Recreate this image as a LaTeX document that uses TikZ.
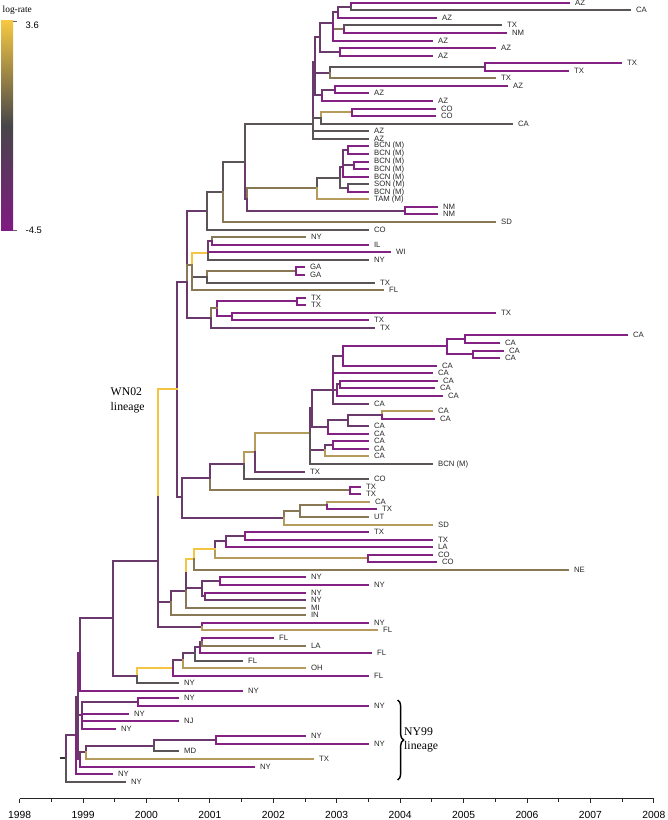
\documentclass[tikz,border=0pt]{standalone}
\usepackage{fontspec}
\setmainfont{Liberation Serif}
\setsansfont{Liberation Sans}
\usetikzlibrary{decorations.pathreplacing}
\definecolor{pu}{HTML}{832282}
\definecolor{pd}{HTML}{6B3A6C}
\definecolor{gy}{HTML}{5A5459}
\definecolor{ol}{HTML}{887856}
\definecolor{tn}{HTML}{B59C5C}
\definecolor{ye}{HTML}{F3C543}
\definecolor{barY}{HTML}{F5C842}
\definecolor{barG}{HTML}{474649}
\definecolor{barP}{HTML}{7F1A82}
\tikzset{
  branchln/.style={line width=0.06cm, line cap=rect},
  tiplbl/.style={anchor=west, font=\sffamily\fontsize{6.6}{7}\selectfont, inner xsep=5pt, inner ysep=0pt, text=black!85},
  lineagelbl/.style={anchor=west, align=left, inner sep=0pt, font=\fontsize{10}{12.3}\selectfont},
}
\newcommand\tnode[3]{\coordinate (#1) at (#2,#3);}
\newcommand\tbr[3]{\draw[branchln,#1] (#2) |- (#3);}
\newcommand\tleaf[6]{\coordinate (e#1) at (#3,#4); \draw[branchln,#6] (#2) |- (e#1); \node[tiplbl] (l#1) at (e#1) {#5};}
\begin{document}
\begin{tikzpicture}[x=0.03cm,y=-0.03cm]
\useasboundingbox (0,0) rectangle (667,820);
% ---------- internal nodes ----------
\tnode{nac}{351}{7}
\tnode{nA}{338}{12}
\tnode{ntn}{344}{29}
\tnode{nB}{333}{23}
\tnode{naz2}{340}{52}
\tnode{nC}{320}{37}
\tnode{ntx2}{485}{67}
\tnode{nD}{330}{73}
\tnode{naz3}{335}{90}
\tnode{nE}{322}{95}
\tnode{nF}{315}{62}
\tnode{nco}{352}{112}
\tnode{ncoca}{321}{118}
\tnode{nAZ}{313}{124}
\tnode{nb1}{348}{150}
\tnode{nb2}{354}{165}
\tnode{nb3}{343}{167}
\tnode{nb4}{348}{188}
\tnode{nbmx}{340}{178}
\tnode{nmex}{317}{188}
\tnode{nnm}{405}{211}
\tnode{n247}{247}{199}
\tnode{n245}{245}{162}
\tnode{n223}{223}{192}
\tnode{n207}{207}{211}
\tnode{A1}{212}{241}
\tnode{A2}{208}{253}
\tnode{nga}{296}{271}
\tnode{A4}{207}{277}
\tnode{A5}{192}{265}
\tnode{ntx3}{297}{301}
\tnode{ntx4}{232}{316}
\tnode{n216}{217}{308}
\tnode{ntxc}{211}{318}
\tnode{B}{187}{282}
\tnode{nca1}{465}{339}
\tnode{nca2}{473}{354}
\tnode{nca3}{447}{346}
\tnode{nca4}{343}{356}
\tnode{E1}{340}{384}
\tnode{E2}{337}{390}
\tnode{F}{333}{390}
\tnode{J}{382}{415}
\tnode{I}{348}{420}
\tnode{H}{328}{427}
\tnode{G}{312}{408}
\tnode{nca5}{333}{445}
\tnode{nca6}{325}{450}
\tnode{K}{310}{433}
\tnode{M}{255}{452}
\tnode{N}{244}{464}
\tnode{ntx5}{350}{490}
\tnode{O}{210}{478}
\tnode{nct}{327}{505}
\tnode{nut}{300}{511}
\tnode{P}{284}{518}
\tnode{D}{182}{497}
\tnode{C}{177}{389}
\tnode{R}{158}{495}
\tnode{T1}{245}{536}
\tnode{T2}{226}{541}
\tnode{nco2}{368}{558}
\tnode{S1}{215}{549}
\tnode{S2}{194}{559}
\tnode{nny1}{220}{581}
\tnode{nny2}{205}{596}
\tnode{U}{202}{588}
\tnode{S3a}{186}{573}
\tnode{S3b}{186}{591}
\tnode{V}{171}{602}
\tnode{W}{202}{627}
\tnode{X}{158}{561}
\tnode{AA1a}{202}{642}
\tnode{AA1}{200}{647}
\tnode{AA2}{195}{653}
\tnode{AA3}{183}{660}
\tnode{AA4}{173}{668}
\tnode{Z}{137}{676}
\tnode{Y}{113}{618}
\tnode{BB}{80}{653}
\tnode{DD}{138}{702}
\tnode{EE}{82}{715}
\tnode{FF}{216}{740}
\tnode{GG}{154}{746}
\tnode{HH}{86}{752}
\tnode{II}{80}{759}
\tnode{KK}{78}{697}
\tnode{CC}{76}{735}
\tnode{root}{66}{758}
\coordinate (stub) at (61,758);
% ---------- internal branches ----------
\tbr{pd}{nA}{nac}
\tbr{pd}{nB}{nA}
\tbr{ol}{nB}{ntn}
\tbr{pd}{nC}{nB}
\tbr{pd}{nC}{naz2}
\tbr{pd}{nF}{nC}
\tbr{gy}{nD}{ntx2}
\tbr{pd}{nF}{nD}
\tbr{pd}{nE}{naz3}
\tbr{pd}{nF}{nE}
\tbr{pd}{nAZ}{nF}
\tbr{tn}{ncoca}{nco}
\tbr{gy}{nAZ}{ncoca}
\tbr{gy}{n245}{nAZ}
\tbr{pd}{nb3}{nb1}
\tbr{pd}{nb3}{nb2}
\tbr{pd}{nbmx}{nb3}
\tbr{gy}{nbmx}{nb4}
\tbr{gy}{nmex}{nbmx}
\tbr{ol}{n247}{nmex}
\tbr{pd}{n247}{nnm}
\tbr{pd}{n245}{n247}
\tbr{gy}{n223}{n245}
\tbr{gy}{n207}{n223}
\tbr{pd}{B}{n207}
\tbr{pd}{A2}{A1}
\tbr{ye}{A5}{A2}
\tbr{ol}{A4}{nga}
\tbr{gy}{A5}{A4}
\tbr{ol}{B}{A5}
\tbr{pu}{n216}{ntx3}
\tbr{pu}{n216}{ntx4}
\tbr{ol}{ntxc}{n216}
\tbr{pd}{B}{ntxc}
\tbr{pd}{C}{B}
\tbr{pu}{nca3}{nca1}
\tbr{pu}{nca3}{nca2}
\tbr{pu}{nca4}{nca3}
\tbr{pd}{F}{nca4}
\tbr{pd}{E2}{E1}
\tbr{pd}{F}{E2}
\tbr{pd}{G}{F}
\tbr{pd}{I}{J}
\tbr{pd}{H}{I}
\tbr{pd}{G}{H}
\tbr{pd}{K}{G}
\tbr{pd}{nca6}{nca5}
\tbr{pd}{K}{nca6}
\tbr{tn}{M}{K}
\tbr{tn}{N}{M}
\tbr{pd}{O}{N}
\tbr{ol}{O}{ntx5}
\tbr{ol}{nut}{nct}
\tbr{ol}{P}{nut}
\tbr{pd}{D}{O}
\tbr{pd}{D}{P}
\tbr{pd}{C}{D}
\tbr{pd}{X}{R}
\tbr{ye}{R}{C}
\tbr{pd}{T2}{T1}
\tbr{pd}{S1}{T2}
\tbr{tn}{S1}{nco2}
\tbr{ye}{S2}{S1}
\tbr{pd}{U}{nny1}
\tbr{pd}{U}{nny2}
\tbr{pd}{S3a}{U}
\tbr{ye}{S3a}{S2}
\tbr{pd}{S3b}{S3a}
\tbr{pd}{V}{S3b}
\tbr{pd}{X}{V}
\tbr{pd}{X}{W}
\tbr{pd}{Y}{X}
\tbr{pd}{AA1}{AA1a}
\tbr{pd}{AA2}{AA1}
\tbr{pd}{AA3}{AA2}
\tbr{pd}{AA4}{AA3}
\tbr{ye}{Z}{AA4}
\tbr{pd}{Y}{Z}
\tbr{pd}{BB}{Y}
\tbr{pd}{KK}{BB}
\tbr{pd}{EE}{DD}
\tbr{pd}{KK}{EE}
\tbr{pd}{GG}{FF}
\tbr{pd}{HH}{GG}
\tbr{pd}{II}{HH}
\tbr{pd}{KK}{II}
\tbr{pd}{CC}{KK}
\tbr{pd}{root}{CC}
\draw[branchln,black!80] (stub) -- (root);
% ---------- leaves ----------
\tleaf{1}{nac}{569}{3}{AZ}{pu}
\tleaf{2}{nac}{630}{10}{CA}{gy}
\tleaf{3}{nA}{436}{18}{AZ}{pu}
\tleaf{4}{ntn}{501}{25}{TX}{gy}
\tleaf{5}{ntn}{506}{33}{NM}{pu}
\tleaf{6}{nB}{432}{41}{AZ}{pu}
\tleaf{7}{naz2}{495}{48}{AZ}{pu}
\tleaf{8}{naz2}{432}{56}{AZ}{pu}
\tleaf{9}{ntx2}{621}{63}{TX}{pu}
\tleaf{10}{ntx2}{568}{71}{TX}{pu}
\tleaf{11}{nD}{495}{78}{TX}{ol}
\tleaf{12}{naz3}{507}{86}{AZ}{pu}
\tleaf{13}{naz3}{368}{93}{AZ}{pu}
\tleaf{14}{nE}{432}{101}{AZ}{pu}
\tleaf{15}{nco}{435}{109}{CO}{pu}
\tleaf{16}{nco}{435}{116}{CO}{pu}
\tleaf{17}{ncoca}{512}{124}{CA}{gy}
\tleaf{18}{nAZ}{368}{131}{AZ}{gy}
\tleaf{19}{nAZ}{368}{139}{AZ}{gy}
\tleaf{20}{nb1}{368}{146}{BCN (M)}{pu}
\tleaf{21}{nb1}{368}{154}{BCN (M)}{pu}
\tleaf{22}{nb2}{368}{162}{BCN (M)}{pu}
\tleaf{23}{nb2}{368}{169}{BCN (M)}{pu}
\tleaf{24}{nb3}{368}{177}{BCN (M)}{pu}
\tleaf{25}{nb4}{368}{184}{SON (M)}{gy}
\tleaf{26}{nb4}{368}{192}{BCN (M)}{pu}
\tleaf{27}{nmex}{368}{199}{TAM (M)}{tn}
\tleaf{28}{nnm}{437}{207}{NM}{pu}
\tleaf{29}{nnm}{437}{214}{NM}{pu}
\tleaf{30}{n223}{495}{222}{SD}{ol}
\tleaf{31}{n207}{368}{230}{CO}{gy}
\tleaf{32}{A1}{305}{237}{NY}{ol}
\tleaf{33}{A1}{368}{245}{IL}{pu}
\tleaf{34}{A2}{390}{252}{WI}{pu}
\tleaf{35}{A2}{368}{260}{NY}{gy}
\tleaf{36}{nga}{304}{267}{GA}{pu}
\tleaf{37}{nga}{304}{275}{GA}{pu}
\tleaf{38}{A4}{374}{283}{TX}{gy}
\tleaf{39}{A5}{383}{290}{FL}{ol}
\tleaf{40}{ntx3}{305}{298}{TX}{pu}
\tleaf{41}{ntx3}{305}{305}{TX}{pu}
\tleaf{42}{ntx4}{495}{313}{TX}{pu}
\tleaf{43}{ntx4}{368}{320}{TX}{pu}
\tleaf{44}{ntxc}{374}{328}{TX}{pd}
\tleaf{45}{nca1}{627}{335}{CA}{pu}
\tleaf{46}{nca1}{499}{343}{CA}{pu}
\tleaf{47}{nca2}{503}{351}{CA}{pu}
\tleaf{48}{nca2}{499}{358}{CA}{pu}
\tleaf{49}{nca4}{436}{366}{CA}{pu}
\tleaf{50}{F}{432}{373}{CA}{pu}
\tleaf{51}{E1}{437}{381}{CA}{pu}
\tleaf{52}{E1}{434}{388}{CA}{pu}
\tleaf{53}{E2}{442}{396}{CA}{pu}
\tleaf{54}{F}{368}{404}{CA}{pd}
\tleaf{55}{J}{432}{411}{CA}{tn}
\tleaf{56}{J}{434}{419}{CA}{pu}
\tleaf{57}{I}{368}{426}{CA}{pd}
\tleaf{58}{H}{368}{434}{CA}{pu}
\tleaf{59}{nca5}{368}{441}{CA}{pu}
\tleaf{60}{nca5}{368}{449}{CA}{pu}
\tleaf{61}{nca6}{368}{456}{CA}{tn}
\tleaf{62}{K}{432}{464}{BCN (M)}{gy}
\tleaf{63}{M}{304}{472}{TX}{pd}
\tleaf{64}{N}{368}{479}{CO}{gy}
\tleaf{65}{ntx5}{360}{487}{TX}{pu}
\tleaf{66}{ntx5}{360}{494}{TX}{pu}
\tleaf{67}{nct}{369}{502}{CA}{tn}
\tleaf{68}{nct}{376}{509}{TX}{pu}
\tleaf{69}{nut}{368}{517}{UT}{ol}
\tleaf{70}{P}{432}{525}{SD}{tn}
\tleaf{71}{T1}{368}{532}{TX}{pu}
\tleaf{72}{T1}{432}{540}{TX}{pu}
\tleaf{73}{T2}{432}{547}{LA}{pu}
\tleaf{74}{nco2}{432}{555}{CO}{pu}
\tleaf{75}{nco2}{436}{562}{CO}{pu}
\tleaf{76}{S2}{568}{570}{NE}{ol}
\tleaf{77}{nny1}{305}{577}{NY}{pu}
\tleaf{78}{nny1}{368}{585}{NY}{pu}
\tleaf{79}{nny2}{305}{593}{NY}{pu}
\tleaf{80}{nny2}{305}{600}{NY}{pd}
\tleaf{81}{S3b}{305}{608}{MI}{ol}
\tleaf{82}{V}{305}{615}{IN}{ol}
\tleaf{83}{W}{368}{623}{NY}{pu}
\tleaf{84}{W}{377}{630}{FL}{tn}
\tleaf{85}{AA1a}{273}{638}{FL}{pu}
\tleaf{86}{AA1a}{305}{646}{LA}{ol}
\tleaf{87}{AA1}{371}{653}{FL}{pu}
\tleaf{88}{AA2}{242}{661}{FL}{gy}
\tleaf{89}{AA3}{305}{668}{OH}{tn}
\tleaf{90}{AA4}{368}{676}{FL}{pu}
\tleaf{91}{Z}{178}{683}{NY}{gy}
\tleaf{92}{BB}{242}{691}{NY}{pu}
\tleaf{93}{DD}{178}{698}{NY}{pu}
\tleaf{94}{DD}{368}{706}{NY}{pu}
\tleaf{95}{EE}{128}{714}{NY}{pu}
\tleaf{96}{EE}{178}{721}{NJ}{pu}
\tleaf{97}{EE}{115}{729}{NY}{pu}
\tleaf{98}{FF}{305}{736}{NY}{pu}
\tleaf{99}{FF}{368}{744}{NY}{pu}
\tleaf{100}{GG}{178}{751}{MD}{gy}
\tleaf{101}{HH}{313}{759}{TX}{tn}
\tleaf{102}{II}{254}{767}{NY}{pu}
\tleaf{103}{CC}{112}{774}{NY}{pu}
\tleaf{104}{root}{125}{782}{NY}{gy}
% ---------- lineage labels ----------
\node[lineagelbl] (wn) at (110.5,400.5) {WN02\\lineage};
\coordinate (brtop) at (397.7,700);
\coordinate (brbot) at (397.7,780);
\draw[line width=1.2pt, decorate, decoration={brace, amplitude=5pt}] (brtop) -- (brbot);
\node[lineagelbl] (ny) at (404,740) {NY99\\lineage};
% ---------- legend ----------
\shade[top color=barY, bottom color=barP, middle color=barG] (1,21) rectangle (13,230);
\draw[black!60, line width=0.6pt] (13,21) -- (16.5,21);
\draw[black!60, line width=0.6pt] (13,230) -- (16.5,230);
\node[anchor=west, inner sep=0pt, font=\fontsize{8}{9}\selectfont] (lr) at (2.5,10.5) {log-rate};
\node[anchor=west, inner sep=0pt, font=\sffamily\fontsize{8}{9}\selectfont] (hi) at (25.5,25.5) {3.6};
\node[anchor=west, inner sep=0pt, font=\sffamily\fontsize{8}{9}\selectfont] (lo) at (25.5,230.5) {-4.5};
% ---------- time axis ----------
\coordinate (ax0) at (19.6,798.5);
\coordinate (ax1) at (653.8,798.5);
\draw[black!85, line width=0.7pt] (ax0) -- (ax1);
\foreach \i in {0,...,10}{
  \pgfmathsetmacro{\xx}{19.6+63.42*\i}
  \pgfmathtruncatemacro{\yr}{1998+\i}
  \draw[black!85, line width=0.7pt] (\xx,798.5) -- (\xx,802.5);
  \node[font=\sffamily\fontsize{8.8}{10}\selectfont, inner sep=0pt] (yr\i) at (\xx,814.5) {\yr};
}
\foreach \i in {0,...,9}{
  \pgfmathsetmacro{\xx}{19.6+63.42*\i+31.71}
  \draw[black!85, line width=0.6pt] (\xx,798.5) -- (\xx,801.5);
}
\end{tikzpicture}
\end{document}
